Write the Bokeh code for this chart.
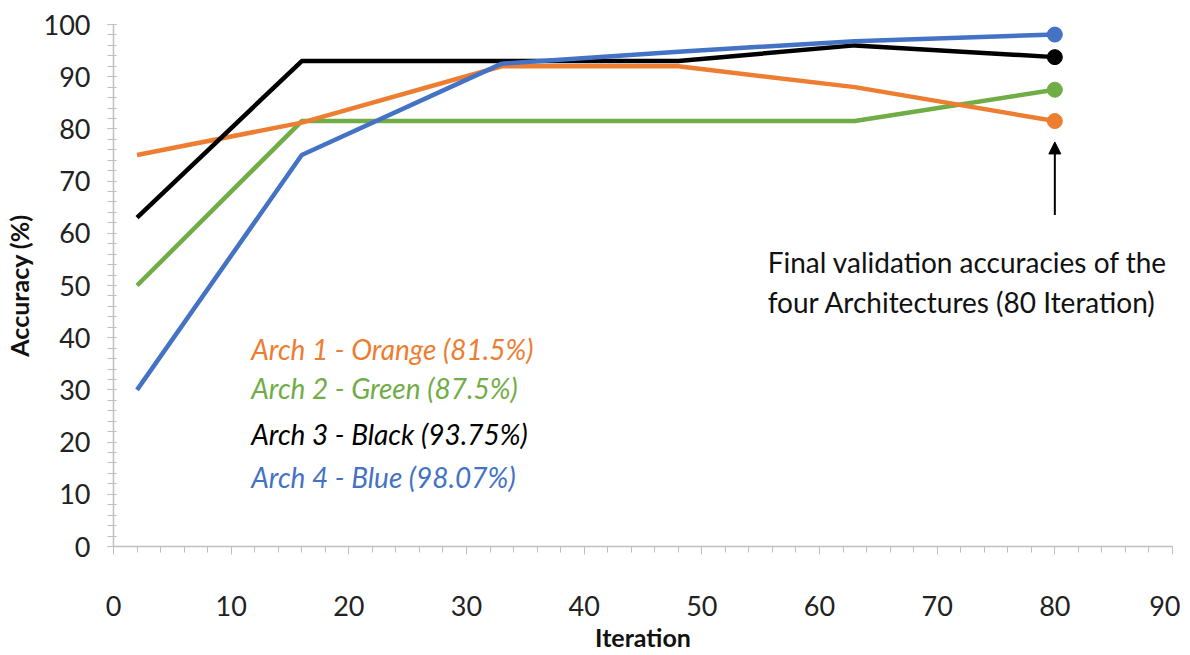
from bokeh.core.properties import value
from bokeh.embed import file_html
from bokeh.models import Arrow, NormalHead, Range1d, Label, SingleIntervalTicker
from bokeh.plotting import figure
from bokeh.resources import INLINE

iterations = [2, 16, 33, 48, 63, 80]
arch1_orange = [75, 81.2, 92, 92, 88, 81.5]
arch2_green = [50, 81.5, 81.5, 81.5, 81.5, 87.5]
arch3_black = [63, 93, 93, 93, 96, 93.75]
arch4_blue = [30, 75, 92.5, 94.8, 96.8, 98.07]

series = [
    ("Arch 1 - Orange (81.5%)", arch1_orange, "#ED7D31"),
    ("Arch 2 - Green (87.5%)", arch2_green, "#70AD47"),
    ("Arch 3 -  Black (93.75%)", arch3_black, "#000000"),
    ("Arch 4 - Blue (98.07%)", arch4_blue, "#4472C4"),
]
legend_y = [37.9, 30.4, 21.6, 13.4]

FONT = "Lato"

p = figure(width=1180, height=654, output_backend="svg", toolbar_location=None,
           x_range=Range1d(0, 90), y_range=Range1d(0, 100),
           min_border_left=104, min_border_right=8, min_border_top=24,
           min_border_bottom=99)
p.outline_line_color = None
p.xgrid.visible = False
p.ygrid.visible = False

# lines drawn in order so blue ends up on top like the original
for name, ys, col in [series[1], series[0], series[2], series[3]]:
    p.line(iterations, ys, line_color=col, line_width=4.5)
    p.scatter([iterations[-1]], [ys[-1]], size=15, color=col)

for (name, ys, col), ly in zip(series, legend_y):
    p.text(x=[11.7], y=[ly], text=[name], text_color=col,
           text_font=value(FONT), text_font_style="italic",
           text_font_size="28px", text_baseline="middle")

p.add_layout(Label(x=55.6, y=54.5, text="Final validation accuracies of the",
                   text_font=FONT, text_font_size="28px", text_color="#111111",
                   text_baseline="middle"))
p.add_layout(Label(x=55.6, y=46.8, text="four Architectures (80 Iteration)",
                   text_font=FONT, text_font_size="28px", text_color="#111111",
                   text_baseline="middle"))
p.add_layout(Arrow(x_start=80, y_start=63.5, x_end=80, y_end=77.5,
                   line_width=2, line_color="black",
                   end=NormalHead(size=12, fill_color="black", line_color="black")))

for ax in (p.xaxis[0], p.yaxis[0]):
    ax.ticker = SingleIntervalTicker(interval=10, num_minor_ticks=5)
    ax.axis_line_color = "#BFBFBF"
    ax.axis_line_width = 1.5
    ax.major_tick_line_color = "#BFBFBF"
    ax.minor_tick_line_color = "#BFBFBF"
    ax.major_label_text_font = FONT
    ax.major_label_text_font_size = "27px"
    ax.major_label_text_color = "#222222"
    ax.axis_label_text_font = FONT
    ax.axis_label_text_font_style = "bold"
    ax.axis_label_text_font_size = "25px"
    ax.axis_label_text_color = "#111111"

p.xaxis.axis_label = "Iteration"
p.xaxis.major_tick_out = 8
p.xaxis.major_tick_in = 0
p.xaxis.minor_tick_out = 6
p.xaxis.minor_tick_in = 0
p.xaxis.major_label_standoff = 41
p.xaxis.axis_label_standoff = 3

p.yaxis.axis_label = "Accuracy (%)"
p.yaxis.major_tick_out = 6
p.yaxis.major_tick_in = 3
p.yaxis.minor_tick_out = 6
p.yaxis.minor_tick_in = 3
p.yaxis.major_label_standoff = 17
p.yaxis.axis_label_standoff = 7

open("out.html", "w").write(file_html(p, INLINE))
